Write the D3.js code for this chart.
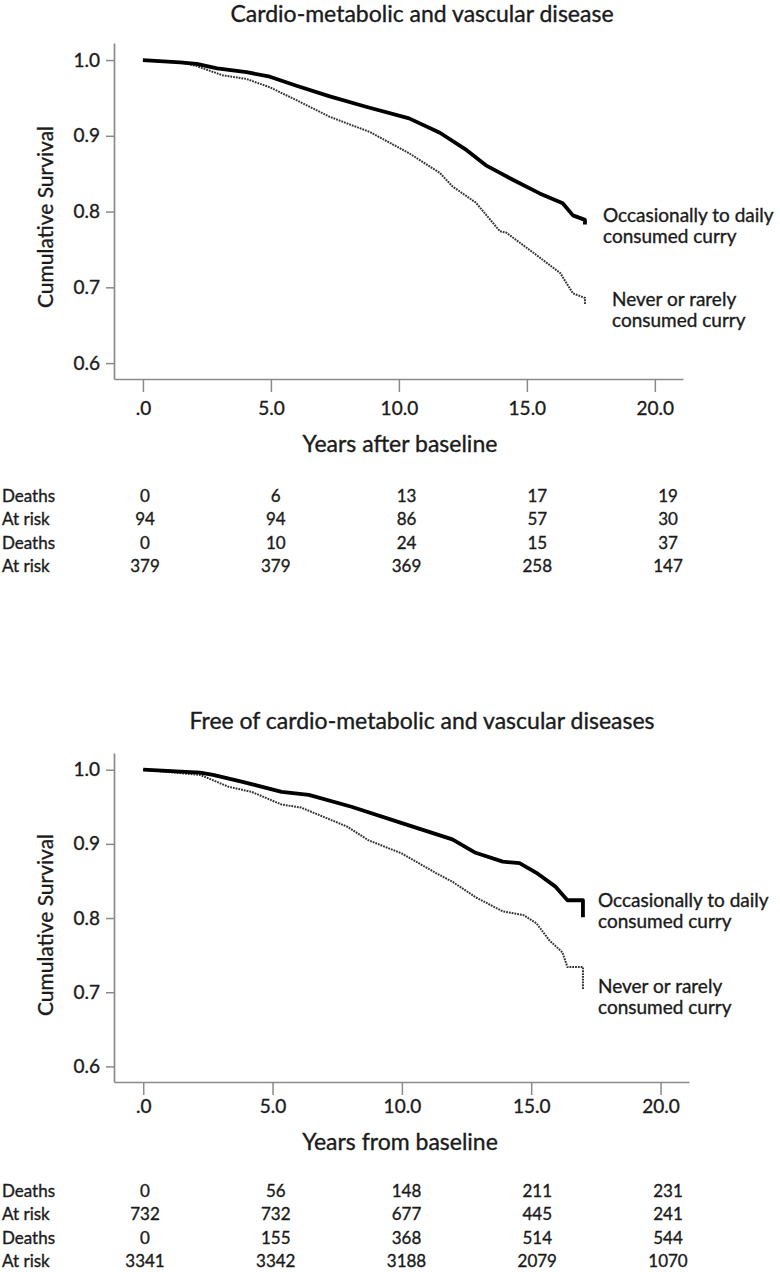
<!DOCTYPE html>
<html>
<head>
<meta charset="utf-8">
<script src="https://cdn.jsdelivr.net/npm/d3@7/dist/d3.min.js"></script>
<style>
  html, body { margin: 0; padding: 0; background: #ffffff; }
  svg { display: block; }
  text { font-family: Lato, "Open Sans", sans-serif; fill: #1b1b1b; stroke: #1b1b1b; stroke-width: 0.35px; }
</style>
</head>
<body>
<svg id="chart" width="780" height="1272"></svg>
<script>
// ---------------- data ----------------
const xTickValues = [0, 5, 10, 15, 20];
const xTickLabels = [".0", "5.0", "10.0", "15.0", "20.0"];
const yTickValues = [0.6, 0.7, 0.8, 0.9, 1.0];
const yTickLabels = ["0.6", "0.7", "0.8", "0.9", "1.0"];

const seriesNames = ["Occasionally to daily consumed curry", "Never or rarely consumed curry"];
const legendOccasional = ["Occasionally to daily", "consumed curry"];
const legendNever = ["Never or rarely", "consumed curry"];

const tableRowLabels = ["Deaths", "At risk", "Deaths", "At risk"];

// Panel 1: Cardio-metabolic and vascular disease  [years, cumulative survival]
const topOccasional = [
  [0, 1.0], [1.45, 0.997], [2.1, 0.995], [2.9, 0.989], [4.05, 0.984], [4.96, 0.978],
  [6.0, 0.966], [7.3, 0.952], [8.75, 0.938], [10.4, 0.923], [11.6, 0.904], [12.65, 0.881],
  [13.4, 0.861], [13.95, 0.851], [14.45, 0.842], [15.5, 0.824], [16.4, 0.811],
  [16.8, 0.795], [17.27, 0.789], [17.27, 0.783]
];
const topNever = [
  [0, 1.0], [1.5, 0.997], [2.1, 0.992], [2.6, 0.986], [3.1, 0.980], [4.05, 0.975],
  [4.96, 0.964], [6.0, 0.947], [7.3, 0.925], [8.87, 0.905], [10.4, 0.877], [11.6, 0.851],
  [12.1, 0.833], [13.0, 0.812], [13.95, 0.774], [14.2, 0.772], [15.2, 0.747],
  [16.3, 0.719], [16.8, 0.692], [17.27, 0.686], [17.27, 0.677]
];
const topTable = [
  [0, 6, 13, 17, 19],
  [94, 94, 86, 57, 30],
  [0, 10, 24, 15, 37],
  [379, 379, 369, 258, 147]
];

// Panel 2: Free of cardio-metabolic and vascular diseases
const bottomOccasional = [
  [0, 1.0], [2.2, 0.996], [2.7, 0.993], [3.8, 0.984], [5.35, 0.970], [6.4, 0.966],
  [8.05, 0.950], [10.0, 0.928], [11.95, 0.906], [12.85, 0.888], [13.9, 0.876],
  [14.55, 0.874], [15.2, 0.861], [15.95, 0.842], [16.4, 0.824], [17.0, 0.824], [17.0, 0.801]
];
const bottomNever = [
  [0, 1.0], [2.2, 0.993], [3.3, 0.977], [4.2, 0.970], [5.35, 0.953], [6.1, 0.949],
  [7.9, 0.923], [8.7, 0.905], [10.0, 0.887], [11.3, 0.861], [11.95, 0.849], [12.6, 0.834],
  [12.85, 0.828], [13.9, 0.809], [14.7, 0.804], [15.2, 0.793], [15.7, 0.770],
  [16.2, 0.754], [16.4, 0.734], [17.0, 0.734], [17.0, 0.703]
];
const bottomTable = [
  [0, 56, 148, 211, 231],
  [732, 732, 677, 445, 241],
  [0, 155, 368, 514, 544],
  [3341, 3342, 3188, 2079, 1070]
];

// ---------------- layout ----------------
const panels = [
  {
    title: "Cardio-metabolic and vascular disease",
    xTitle: "Years after baseline",
    occ: topOccasional, nev: topNever, table: topTable,
    xRange: [114, 683], yTop: 43, yBottom: 379,
    titleY: 22, titleX: 422, yLabelY: 217,
    tickLabelY: 36, xTitleY: 452,
    occLegend: { x: 603, y: 222 }, nevLegend: { x: 612, y: 306 },
    tableY: 502
  },
  {
    title: "Free of cardio-metabolic and vascular diseases",
    xTitle: "Years from baseline",
    occ: bottomOccasional, nev: bottomNever, table: bottomTable,
    xRange: [114, 689], yTop: 753, yBottom: 1082,
    titleY: 729, titleX: 422, yLabelY: 925,
    tickLabelY: 31, xTitleY: 1150,
    occLegend: { x: 598, y: 907 }, nevLegend: { x: 598, y: 993 },
    tableY: 1197
  }
];

const svg = d3.select("#chart");
const axisColor = "#8a8a8a";
const xDomain = [-1.13, 21.1];
const yDomain = [0.579, 1.0225];
const tableCols = d3.scalePoint().domain(d3.range(5)).range([145, 668]);
const rowStep = 23.4;
const legendLineH = 20.5;

panels.forEach(p => {
  const g = svg.append("g");
  const x = d3.scaleLinear().domain(xDomain).range(p.xRange);
  const y = d3.scaleLinear().domain(yDomain).range([p.yBottom, p.yTop]);

  // title
  g.append("text")
    .attr("x", p.titleX).attr("y", p.titleY)
    .attr("text-anchor", "middle")
    .style("font-size", "23px")
    .text(p.title);

  // y axis
  const yAxis = d3.axisLeft(y)
    .tickValues(yTickValues)
    .tickFormat((d, i) => yTickLabels[i])
    .tickSize(8).tickSizeOuter(0).tickPadding(6);
  const ya = g.append("g").attr("transform", `translate(${p.xRange[0]},0)`).call(yAxis);
  ya.select(".domain").attr("stroke", axisColor).attr("stroke-width", 1.7);
  ya.selectAll(".tick line").attr("stroke", axisColor).attr("stroke-width", 1.5);
  ya.selectAll(".tick text").style("font-size", "19px").style("font-family", "Lato").attr("fill", "#1b1b1b");

  // x axis
  const xAxis = d3.axisBottom(x)
    .tickValues(xTickValues)
    .tickFormat((d, i) => xTickLabels[i])
    .tickSize(13).tickSizeOuter(0).tickPadding(0);
  const xa = g.append("g").attr("transform", `translate(0,${p.yBottom})`).call(xAxis);
  xa.select(".domain").attr("stroke", axisColor).attr("stroke-width", 1.7);
  xa.selectAll(".tick line").attr("stroke", axisColor).attr("stroke-width", 1.5);
  xa.selectAll(".tick text")
    .attr("y", p.tickLabelY).attr("dy", 0)
    .style("font-size", "19px").style("font-family", "Lato").attr("fill", "#1b1b1b");

  // y label
  g.append("text")
    .attr("transform", `translate(53,${p.yLabelY}) rotate(-90)`)
    .attr("text-anchor", "middle")
    .style("font-size", "21px")
    .text("Cumulative Survival");

  // x title
  g.append("text")
    .attr("x", 400).attr("y", p.xTitleY)
    .attr("text-anchor", "middle")
    .style("font-size", "23px")
    .text(p.xTitle);

  // curves
  const line = d3.line().x(d => x(d[0])).y(d => y(d[1])).curve(d3.curveLinear);
  g.append("path").datum(p.nev)
    .attr("d", line)
    .attr("fill", "none")
    .attr("stroke", "#333")
    .attr("stroke-width", 2)
    .attr("stroke-dasharray", "1.8 1");
  g.append("path").datum(p.occ)
    .attr("d", line)
    .attr("fill", "none")
    .attr("stroke", "#000")
    .attr("stroke-width", 3.8)
    .attr("stroke-linejoin", "round");

  // legends
  [[legendOccasional, p.occLegend], [legendNever, p.nevLegend]].forEach(([lines, pos]) => {
    const t = g.append("text").attr("x", pos.x).attr("y", pos.y).style("font-size", "19px");
    lines.forEach((l, i) => {
      t.append("tspan").attr("x", pos.x).attr("y", pos.y + i * legendLineH).text(l);
    });
  });

  // table
  const tg = g.append("g");
  tableRowLabels.forEach((lab, r) => {
    const yy = p.tableY + r * rowStep;
    tg.append("text").attr("x", 2).attr("y", yy).style("font-size", "17px").text(lab);
    p.table[r].forEach((v, c) => {
      tg.append("text")
        .attr("x", tableCols(c)).attr("y", yy)
        .attr("text-anchor", "middle")
        .style("font-size", "17px")
        .text(v);
    });
  });
});
</script>
</body>
</html>
